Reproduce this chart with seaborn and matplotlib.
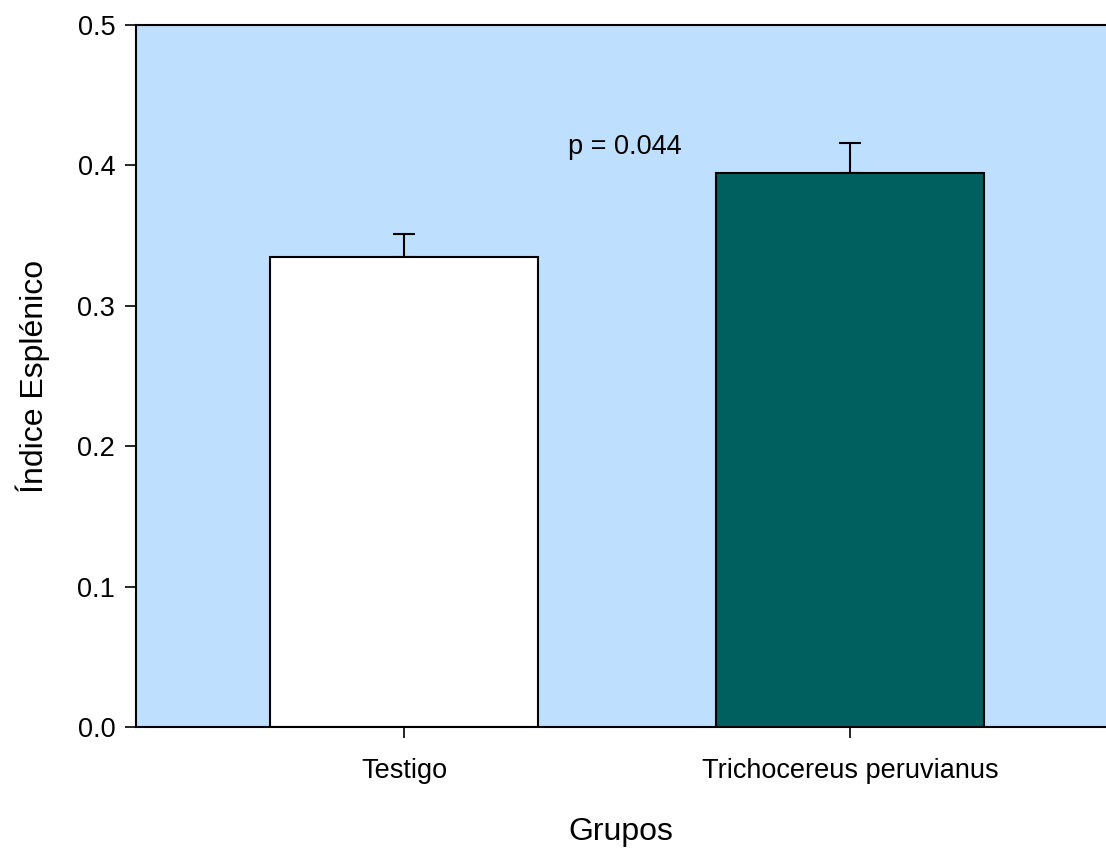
import matplotlib
matplotlib.use("Agg")
import pandas as pd
import seaborn as sns
import matplotlib.pyplot as plt

# values
grupos = ["Testigo", "Trichocereus peruvianus"]
medias = [0.335, 0.3945]
errores = [0.016, 0.0215]
colores = ["#FFFFFF", "#006060"]
y_ticks = [0.0, 0.1, 0.2, 0.3, 0.4, 0.5]
p_texto = "p = 0.044"

data = pd.DataFrame({"Grupos": grupos, "Indice": medias})

sns.set_style("ticks")
plt.rcParams["font.family"] = ["Liberation Sans", "DejaVu Sans"]
plt.rcParams["text.color"] = "black"
plt.rcParams["axes.labelcolor"] = "black"

fig = plt.figure(figsize=(11.06, 8.48), dpi=100)
ax = fig.add_axes([136 / 1106, 1 - 727 / 848, 1 - 136 / 1106, (727 - 25) / 848])
ax.set_facecolor("#BFDFFF")

sns.barplot(data=data, x="Grupos", y="Indice", hue="Grupos", palette=colores,
            saturation=1, width=0.6, edgecolor="black", linewidth=1.5, legend=False,
            ax=ax, errorbar=None, zorder=2)

# only the upper half of the error bar is shown
ax.errorbar(range(len(grupos)), medias, yerr=[[0] * len(errores), errores],
            fmt="none", ecolor="black", elinewidth=1.5, capsize=8, capthick=1.5, zorder=1)

ax.text(0.496, 0.413, p_texto, ha="center", va="center", fontsize=19.5, color="black")

ax.set_ylim(0, 0.5)
ax.set_xlim(-0.601, 1.574)
ax.set_yticks(y_ticks)
ax.set_yticklabels([f"{v:.1f}" for v in y_ticks])
ax.tick_params(axis="both", direction="out", length=8, width=1.2, labelsize=19.5,
               colors="black")
ax.tick_params(axis="y", pad=7)
ax.tick_params(axis="x", pad=14)

for side in ["left", "top", "bottom"]:
    ax.spines[side].set_linewidth(1.5)
    ax.spines[side].set_color("black")
ax.spines["right"].set_visible(False)

ax.set_xlabel("Grupos", fontsize=23, labelpad=24)
ax.set_ylabel("Índice Esplénico", fontsize=23, labelpad=20)

fig.savefig("out.png", dpi=100)
